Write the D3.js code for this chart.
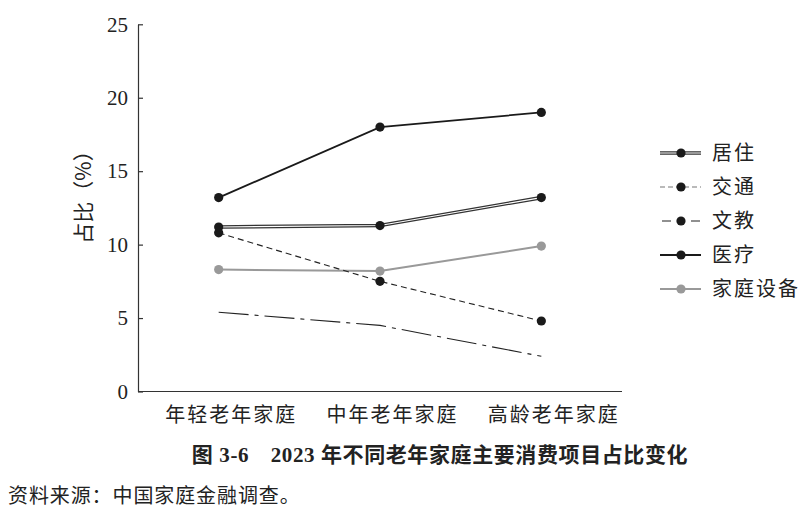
<!DOCTYPE html>
<html><head><meta charset="utf-8">
<script src="https://cdn.jsdelivr.net/npm/d3@7"></script>
<style>
html,body{margin:0;padding:0;background:#fff;}
svg{display:block;}
</style></head>
<body>
<svg id="chart" width="810" height="522"></svg>
<script>
const categories = ["年轻老年家庭", "中年老年家庭", "高龄老年家庭"];
const seriesNames = ["居住", "交通", "文教", "医疗", "家庭设备"];
const housing = [11.2, 11.3, 13.2];
const transport = [10.8, 7.5, 4.8];
const education = [5.4, 4.5, 2.4];
const medical = [13.2, 18.0, 19.0];
const equipment = [8.3, 8.2, 9.9];
const yTicks = [0, 5, 10, 15, 20, 25];
const yLabel = "占比（%）";
const title = "图 3-6　2023 年不同老年家庭主要消费项目占比变化";
const source = "资料来源：中国家庭金融调查。";

const series = [
  {name: seriesNames[0], values: housing, type: "double", markers: true},
  {name: seriesNames[1], values: transport, type: "dash", markers: true},
  {name: seriesNames[2], values: education, type: "dashdot", markers: false},
  {name: seriesNames[3], values: medical, type: "solid", markers: true},
  {name: seriesNames[4], values: equipment, type: "gray", markers: true}
];

const svg = d3.select("#chart");
const serif = "'Liberation Serif','Noto Sans CJK SC',serif";
const cjk = "'Noto Sans CJK SC','Liberation Serif',sans-serif";

const x = d3.scalePoint().domain(categories).range([138, 622]).padding(0.5);
const y = d3.scaleLinear().domain([0, 25]).range([391.5, 24.3]);

// axes
const yAxis = d3.axisLeft(y).tickValues(yTicks).tickSize(-5).tickPadding(10).tickSizeOuter(0);
const gy = svg.append("g").attr("transform", "translate(138,0)").call(yAxis);
gy.select(".domain").attr("stroke", "#333").attr("stroke-width", 1.2);
gy.selectAll(".tick line").attr("stroke", "#333").attr("stroke-width", 1.2);
gy.selectAll(".tick text").attr("font-family", serif).attr("font-size", 21).attr("fill", "#222");

const xAxis = d3.axisBottom(x).tickSize(0).tickPadding(16).tickSizeOuter(0);
const gx = svg.append("g").attr("transform", "translate(0,391.5)").call(xAxis);
gx.select(".domain").attr("stroke", "#333").attr("stroke-width", 1.2).attr("d", "M138,0H622");
gx.selectAll(".tick text").attr("font-family", cjk).attr("font-size", 20).attr("fill", "#222")
  .attr("letter-spacing", 2).attr("dx", 12);

// y label
svg.append("text").attr("transform", "translate(91,192) rotate(-90)")
  .attr("text-anchor", "middle").attr("font-family", cjk).attr("font-size", 21).attr("fill", "#222")
  .text(yLabel);

const line = d3.line().x((d, i) => x(categories[i])).y(d => y(d));

function styleLine(sel, type) {
  if (type === "solid") sel.attr("stroke", "#1a1a1a").attr("stroke-width", 1.8);
  if (type === "gray") sel.attr("stroke", "#999").attr("stroke-width", 2);
  if (type === "dash") sel.attr("stroke", "#222").attr("stroke-width", 1.1).attr("stroke-dasharray", "6,4");
  if (type === "dashdot") sel.attr("stroke", "#222").attr("stroke-width", 1.1).attr("stroke-dasharray", "30,6,4,6");
}

function drawPath(g, d, type) {
  if (type === "double") {
    g.append("path").attr("d", d).attr("fill", "none").attr("stroke", "#333").attr("stroke-width", 3.6);
    g.append("path").attr("d", d).attr("fill", "none").attr("stroke", "#fff").attr("stroke-width", 1.1);
  } else {
    g.append("path").attr("d", d).attr("fill", "none").call(styleLine, type);
  }
}

const plot = svg.append("g");
[4, 2, 1, 0, 3].forEach(k => {
  const s = series[k];
  const g = plot.append("g");
  drawPath(g, line(s.values), s.type);
});
[4, 1, 0, 3].forEach(k => {
  const s = series[k];
  plot.append("g").selectAll("circle").data(s.values).join("circle")
    .attr("cx", (d, i) => x(categories[i])).attr("cy", d => y(d)).attr("r", 4.6)
    .attr("fill", s.type === "gray" ? "#999" : "#1a1a1a");
});

// legend
const leg = svg.append("g");
series.forEach((s, i) => {
  const cy = 153 + i * 34;
  const g = leg.append("g");
  if (s.type === "dashdot") {
    g.append("path").attr("d", `M662,${cy}H671M691,${cy}H700`).attr("stroke", "#222").attr("stroke-width", 1.1);
  } else if (s.type === "dash") {
    g.append("path").attr("d", `M660,${cy}H701`).attr("fill", "none")
      .attr("stroke", "#777").attr("stroke-width", 1.1).attr("stroke-dasharray", "5,3");
  } else {
    drawPath(g, `M660,${cy}H701`, s.type);
  }
  g.append("circle").attr("cx", 681).attr("cy", cy).attr("r", 4.6).attr("fill", s.type === "gray" ? "#999" : "#1a1a1a");
  g.append("text").attr("x", 712).attr("y", cy).attr("dy", "0.36em")
    .attr("font-family", cjk).attr("font-size", 20).attr("fill", "#222").attr("letter-spacing", 2).text(s.name);
});

// title & source
svg.append("text").attr("x", 440).attr("y", 462).attr("text-anchor", "middle")
  .attr("font-family", serif).attr("font-weight", "bold").attr("font-size", 21).attr("letter-spacing", 0.6)
  .attr("fill", "#222").text(title);
svg.append("text").attr("x", 8).attr("y", 503)
  .attr("font-family", cjk).attr("font-size", 20).attr("letter-spacing", 0.9).attr("fill", "#222").text(source);
</script>
</body></html>
